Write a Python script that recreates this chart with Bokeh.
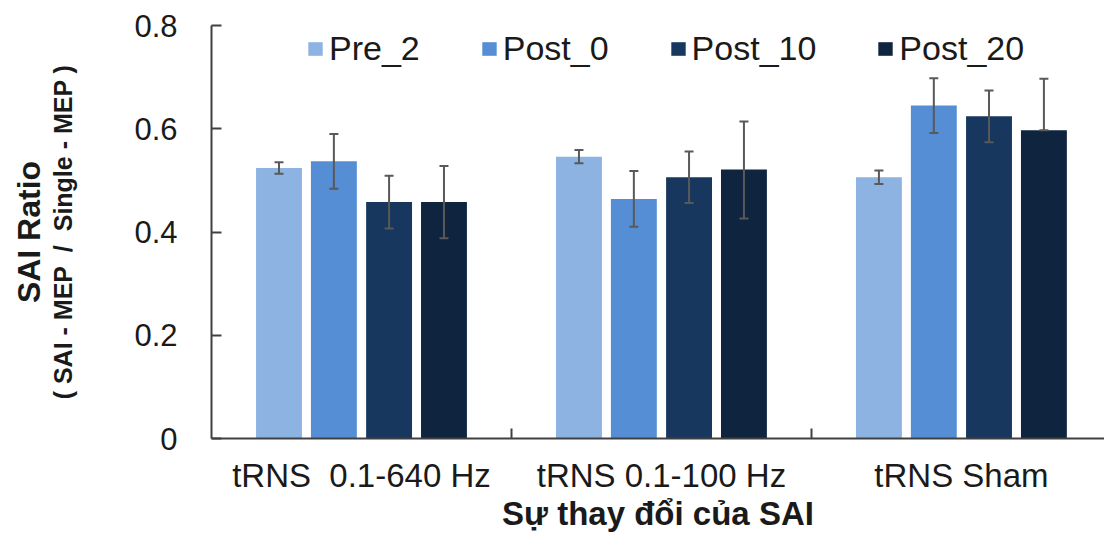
import numpy as np
from bokeh.plotting import figure
from bokeh.models import (ColumnDataSource, Whisker, TeeHead, FixedTicker,
                          LinearAxis, Legend, LegendItem, Range1d)
from bokeh.transform import dodge
from bokeh.embed import file_html
from bokeh.resources import INLINE

NB = "\u00a0"
categories = ["tRNS" + NB + NB + "0.1-640 Hz", "tRNS 0.1-100 Hz", "tRNS Sham"]
series = ["Pre_2", "Post_0", "Post_10", "Post_20"]

pre_2 = [0.524, 0.546, 0.506]
post_0 = [0.537, 0.464, 0.645]
post_10 = [0.458, 0.506, 0.624]
post_20 = [0.458, 0.521, 0.597]

pre_2_err = [0.011, 0.013, 0.013]
post_0_err = [0.053, 0.054, 0.053]
post_10_err = [0.051, 0.050, 0.050]
post_20_err_up = [0.070, 0.093, 0.100]
post_20_err_down = [0.070, 0.095, 0.0]

y_ticks = [0, 0.2, 0.4, 0.6, 0.8]
y_tick_labels = ["0", "0.2", "0.4", "0.6", "0.8"]

colors = ["#8DB3E2", "#558ED5", "#17375E", "#0F243E"]
offsets = [-0.275, -0.092, 0.092, 0.275]
bar_width = 0.153

values = [pre_2, post_0, post_10, post_20]
err_up = [pre_2_err, post_0_err, post_10_err, post_20_err_up]
err_down = [pre_2_err, post_0_err, post_10_err, post_20_err_down]

FONT = "Liberation Sans"
AX = "#404040"
TXT = "#1a1a1a"

p = figure(width=1104, height=535, output_backend="svg", toolbar_location=None,
           x_range=Range1d(0, 2.977), y_range=Range1d(0, 0.8),
           min_border_left=211, min_border_right=0, min_border_top=25,
           min_border_bottom=97)
p.outline_line_color = None
p.grid.visible = False
p.background_fill_color = "white"
p.border_fill_color = "white"

xc = np.arange(len(categories)) + 0.5

items = []
for name, vals, up, dn, col, off in zip(series, values, err_up, err_down, colors, offsets):
    v = np.array(vals)
    src = ColumnDataSource(dict(x=xc, top=v, upper=v + np.array(up), lower=v - np.array(dn)))
    r = p.vbar(x=dodge("x", off), top="top", width=bar_width, source=src,
               fill_color=col, line_color=None)
    w = Whisker(source=src, base=dodge("x", off), upper="upper", lower="lower",
                line_color="#595959", line_width=2, level="overlay",
                upper_head=TeeHead(size=9, line_color="#595959", line_width=2),
                lower_head=TeeHead(size=9, line_color="#595959", line_width=2))
    p.add_layout(w)
    items.append(LegendItem(label=name, renderers=[r]))

legend = Legend(items=items, orientation="horizontal", location=(95, 370),
                background_fill_alpha=0, border_line_color=None,
                label_text_font=FONT, label_text_font_size="34px",
                label_text_color=TXT,
                glyph_width=18, glyph_height=17, label_standoff=5, spacing=60,
                padding=0, margin=0, label_height=40)
p.add_layout(legend)

# y axis
ya = p.yaxis[0]
ya.ticker = FixedTicker(ticks=y_ticks)
ya.major_label_overrides = {t: l for t, l in zip(y_ticks, y_tick_labels)}
ya.major_label_text_font = FONT
ya.major_label_text_font_size = "31px"
ya.major_label_text_color = TXT
ya.major_tick_in = 10
ya.major_tick_out = 0
ya.major_tick_line_color = AX
ya.major_tick_line_width = 2
ya.minor_tick_line_color = None
ya.axis_line_color = AX
ya.axis_line_width = 2
ya.major_label_standoff = 34
ya.axis_label = "( SAI - MEP" + NB + NB + "/" + NB + NB + "Single - MEP )"
ya.axis_label_text_font = FONT
ya.axis_label_text_font_style = "bold"
ya.axis_label_text_font_size = "25px"
ya.axis_label_text_color = TXT
ya.axis_label_standoff = 54

ya2 = LinearAxis(ticker=FixedTicker(ticks=[]), axis_line_color=None,
                 major_tick_line_color=None, minor_tick_line_color=None,
                 major_label_text_font_size="0px",
                 axis_label="SAI Ratio", axis_label_text_font=FONT,
                 axis_label_text_font_style="bold", axis_label_text_font_size="32px",
                 axis_label_text_color=TXT, axis_label_standoff=0)
p.add_layout(ya2, "left")

# x axis
xa = p.xaxis[0]
xa.ticker = FixedTicker(ticks=list(xc), minor_ticks=[1.0, 2.0])
xa.major_label_overrides = {float(t): c for t, c in zip(xc, categories)}
xa.major_label_text_font = FONT
xa.major_label_text_font_size = "33px"
xa.major_label_text_color = TXT
xa.major_tick_line_color = None
xa.major_tick_in = 0
xa.major_tick_out = 0
xa.minor_tick_in = 10
xa.minor_tick_out = 0
xa.minor_tick_line_color = AX
xa.minor_tick_line_width = 2
xa.axis_line_color = AX
xa.axis_line_width = 2
xa.major_label_standoff = 18
xa.axis_label = "Sự thay đổi của SAI"
xa.axis_label_text_font = FONT
xa.axis_label_text_font_style = "bold"
xa.axis_label_text_font_size = "33px"
xa.axis_label_text_color = TXT
xa.axis_label_standoff = -2

open("out.html", "w").write(file_html(p, INLINE))
